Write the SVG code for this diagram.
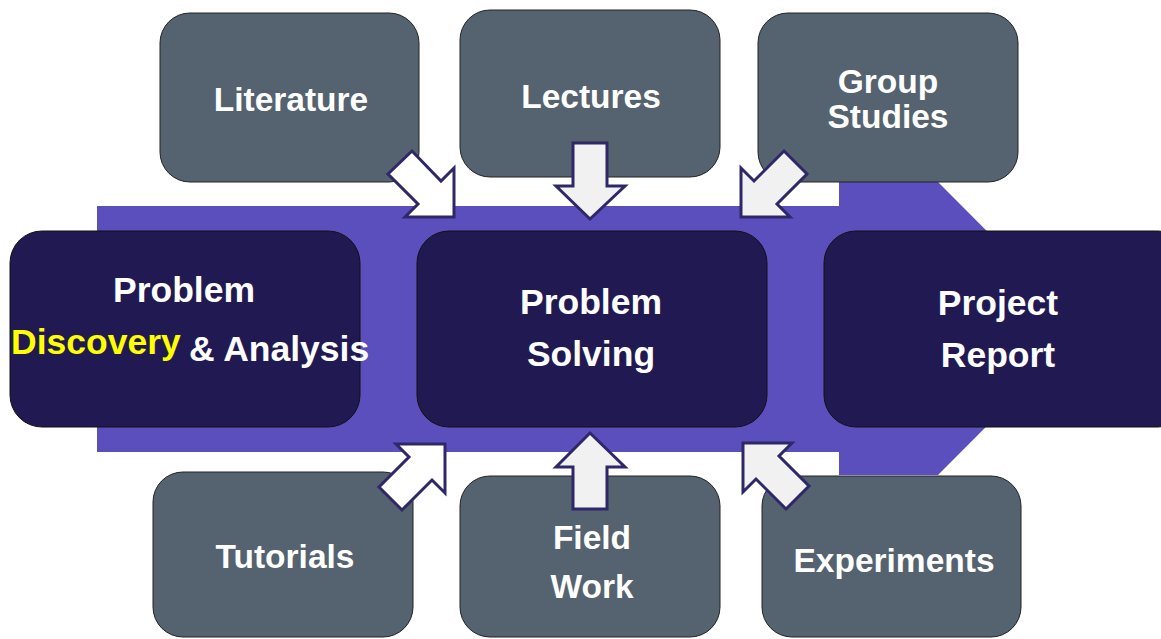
<svg xmlns="http://www.w3.org/2000/svg" width="1161" height="639" viewBox="0 0 1161 639">
<style>
.dark{fill:#211a52;stroke:#111;stroke-width:1}
.gray{fill:#55626f;stroke:#222;stroke-width:1}
.t{font-family:"Liberation Sans",Arial,sans-serif;font-weight:bold;fill:#ffffff;text-anchor:middle}
.big{font-size:35.5px}
.sm{font-size:33.5px}
.arr{stroke:#2e2868;stroke-width:3;stroke-linejoin:miter}
.a1{fill:#ffffff}
.a2{fill:#f1f1f1}
</style>
<rect width="1161" height="639" fill="#ffffff"/>
<g id="flow-arrow">
<polygon points="97,206 839,206 839,182 938,182 1084,328.5 938,475 839,475 839,452 97,452" fill="#5a4fbd"/>
</g>
<g id="node-discovery">
<rect class="dark" x="10" y="231" width="350" height="196" rx="32"/>
<text class="t big" x="184" y="302">Problem</text>
<text x="11" y="354" font-family="Liberation Sans,Arial,sans-serif" font-weight="bold" font-size="35.5" fill="#ffff00">Discovery</text>
<text x="189" y="361" font-family="Liberation Sans,Arial,sans-serif" font-weight="bold" font-size="35.5" fill="#ffffff">&amp; Analysis</text>
</g>
<g id="node-solving">
<rect class="dark" x="417" y="231" width="350" height="196" rx="32"/>
<text class="t big" x="591" y="314">Problem</text>
<text class="t big" x="591" y="366">Solving</text>
</g>
<g id="node-report">
<rect class="dark" x="824" y="231" width="366" height="196" rx="32"/>
<text class="t big" x="998" y="315">Project</text>
<text class="t big" x="998" y="367">Report</text>
</g>
<g id="node-literature">
<rect class="gray" x="160" y="13" width="259" height="169" rx="30"/>
<text class="t sm" x="291" y="111">Literature</text>
</g>
<g id="node-lectures">
<rect class="gray" x="460" y="10" width="260" height="167" rx="30"/>
<text class="t sm" x="591" y="108">Lectures</text>
</g>
<g id="node-group">
<rect class="gray" x="758" y="13" width="260" height="169" rx="30"/>
<text class="t sm" x="888" y="93">Group</text>
<text class="t sm" x="888" y="128">Studies</text>
</g>
<g id="node-tutorials">
<rect class="gray" x="153" y="472" width="260" height="165" rx="30"/>
<text class="t sm" x="285" y="568">Tutorials</text>
</g>
<g id="node-fieldwork">
<rect class="gray" x="460" y="476" width="260" height="161" rx="30"/>
<text class="t sm" x="592" y="549">Field</text>
<text class="t sm" x="592" y="598">Work</text>
</g>
<g id="node-experiments">
<rect class="gray" x="762" y="476" width="259" height="161" rx="30"/>
<text class="t sm" x="894" y="572">Experiments</text>
</g>
<g id="connectors">
<polygon class="arr a1" points="454,217 405,217 418,204 388,174 412,151 441,181 454,168"/>
<polygon class="arr a2" points="573,143 607,143 607,186 625,186 590,219 556,186 573,186"/>
<polygon class="arr a2" points="741,217 741,168 754,181 784,151 807,174 777,204 790,217"/>
<polygon class="arr a1" points="445,444 396,444 409,457 379,487 402,510 432,480 445,493"/>
<polygon class="arr a2" points="590,433 625,467 607,467 607,509 573,509 573,467 556,467"/>
<polygon class="arr a2" points="743,443 792,443 779,456 809,486 786,509 756,479 743,492"/>
</g>
</svg>
